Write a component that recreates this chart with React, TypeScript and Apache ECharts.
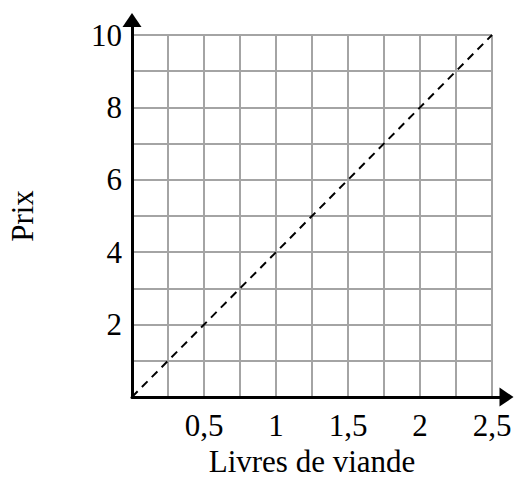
import React, { useEffect, useRef } from "react";
import * as echarts from "echarts";

const livres = [0, 2.5];
const prix = [0, 10];
const xLabelValues = [0.5, 1, 1.5, 2, 2.5];
const yLabelValues = [2, 4, 6, 8, 10];
const xTitle = "Livres de viande";
const yTitle = "Prix";

const FONT = "'Liberation Serif', 'Times New Roman', serif";
const FS = 31;

const hasVal = (arr: number[], v: number) => arr.some((a) => Math.abs(a - v) < 1e-6);
const fmt = (v: number) => String(Math.round(v * 100) / 100).replace(".", ",");

export default function App() {
  const ref = useRef<HTMLDivElement>(null);
  useEffect(() => {
    if (!ref.current) return;
    const chart = echarts.init(ref.current, undefined, { renderer: "svg" });
    const gridColor = "#a4a4a4";
    chart.setOption({
      animation: false,
      backgroundColor: "#ffffff",
      grid: [
        { left: 132, right: 22, top: 35, bottom: 80, containLabel: false, outerBoundsMode: "none" },
        { left: 132, right: 7.5, top: 20, bottom: 80, containLabel: false, outerBoundsMode: "none" },
      ],
      xAxis: [
        {
          type: "value",
          gridIndex: 0,
          min: 0,
          max: 2.5,
          interval: 0.25,
          axisLine: { show: false },
          axisTick: { show: false },
          splitLine: { show: true, lineStyle: { color: gridColor, width: 2 } },
          axisLabel: {
            margin: 13,
            color: "#000",
            fontFamily: FONT,
            fontSize: FS,
            showMinLabel: true,
            showMaxLabel: true,
            formatter: (v: number) => (hasVal(xLabelValues, v) ? fmt(v) : ""),
          },
          name: xTitle,
          nameLocation: "middle",
          nameGap: 46,
          nameTextStyle: { color: "#000", fontFamily: FONT, fontSize: FS },
        },
        {
          type: "value",
          gridIndex: 1,
          min: 0,
          max: 1,
          z: 5,
          axisLine: {
            show: true,
            symbol: ["none", "triangle"],
            symbolSize: [19, 14],
            lineStyle: { color: "#000", width: 3 },
          },
          axisTick: { show: false },
          splitLine: { show: false },
          axisLabel: { show: false },
        },
      ],
      yAxis: [
        {
          type: "value",
          gridIndex: 0,
          min: 0,
          max: 10,
          interval: 1,
          axisLine: { show: false },
          axisTick: { show: false },
          splitLine: { show: true, lineStyle: { color: gridColor, width: 2 } },
          axisLabel: {
            margin: 10,
            color: "#000",
            fontFamily: FONT,
            fontSize: FS,
            showMinLabel: true,
            showMaxLabel: true,
            formatter: (v: number) => (hasVal(yLabelValues, v) ? fmt(v) : ""),
          },
          name: yTitle,
          nameLocation: "middle",
          nameGap: 94,
          nameTextStyle: { color: "#000", fontFamily: FONT, fontSize: FS },
        },
        {
          type: "value",
          gridIndex: 1,
          min: 0,
          max: 1,
          z: 5,
          axisLine: {
            show: true,
            symbol: ["none", "triangle"],
            symbolSize: [19, 14],
            lineStyle: { color: "#000", width: 3 },
          },
          axisTick: { show: false },
          splitLine: { show: false },
          axisLabel: { show: false },
        },
      ],
      series: [
        {
          type: "line",
          xAxisIndex: 0,
          yAxisIndex: 0,
          data: livres.map((x, i) => [x, prix[i]]),
          symbol: "none",
          lineStyle: { color: "#000", width: 2, type: [8, 6] },
          z: 3,
        },
      ],
    });
    return () => chart.dispose();
  }, []);
  return (
    <div
      ref={ref}
      style={{ position: "fixed", left: 0, top: 0, width: 514, height: 477 }}
    />
  );
}
